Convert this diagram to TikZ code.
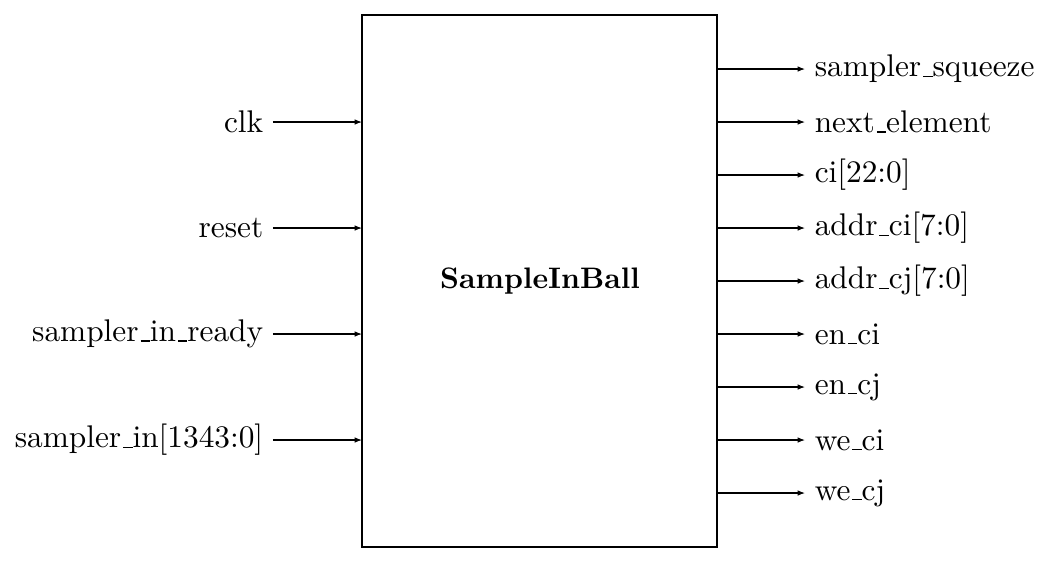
\documentclass[tikz,border=0pt]{standalone}
\usetikzlibrary{arrows.meta}
\newcommand{\us}{\leavevmode\kern.06em\vbox{\hrule width.3em}}
\begin{document}
\begin{tikzpicture}[x=0.327pt,y=-0.327pt,
  font=\fontsize{10.25}{12}\selectfont,
  blockbox/.style={draw,line width=0.8pt},
  sig/.style={line width=0.35pt,-{Latex[length=2.4pt,width=1.8pt]}},
  inlbl/.style={anchor=east,inner sep=3pt},
  outlbl/.style={anchor=west,inner sep=3pt}]
\useasboundingbox (0,0) rectangle (1047,564);
\draw[blockbox] (362,15) rectangle (717,547);
\node[font=\fontsize{9.7}{12}\selectfont\bfseries] (core) at (540,281) {SampleInBall};
% inputs
\foreach \n/\y/\t in {a/122/clk, b/228/reset, c/334/sampler\us in\us ready, d/440/sampler\us in[1343:0]}{
  \coordinate (s\n) at (273,\y);
  \coordinate (e\n) at (362,\y);
  \node[inlbl] (l\n) at (s\n) {\t};
  \draw[sig] (s\n) -- (e\n);
}
% outputs
\foreach \n/\y/\t in {a/69/sampler\us squeeze, b/122/next\us element, c/175/ci[22:0], d/228/addr\us ci[7:0], e/281/addr\us cj[7:0], f/334/en\us ci, g/387/en\us cj, h/440/we\us ci, i/493/we\us cj}{
  \coordinate (os\n) at (717,\y);
  \coordinate (oe\n) at (805,\y);
  \node[outlbl] (ol\n) at (oe\n) {\t};
  \draw[sig] (os\n) -- (oe\n);
}
\end{tikzpicture}
\end{document}
